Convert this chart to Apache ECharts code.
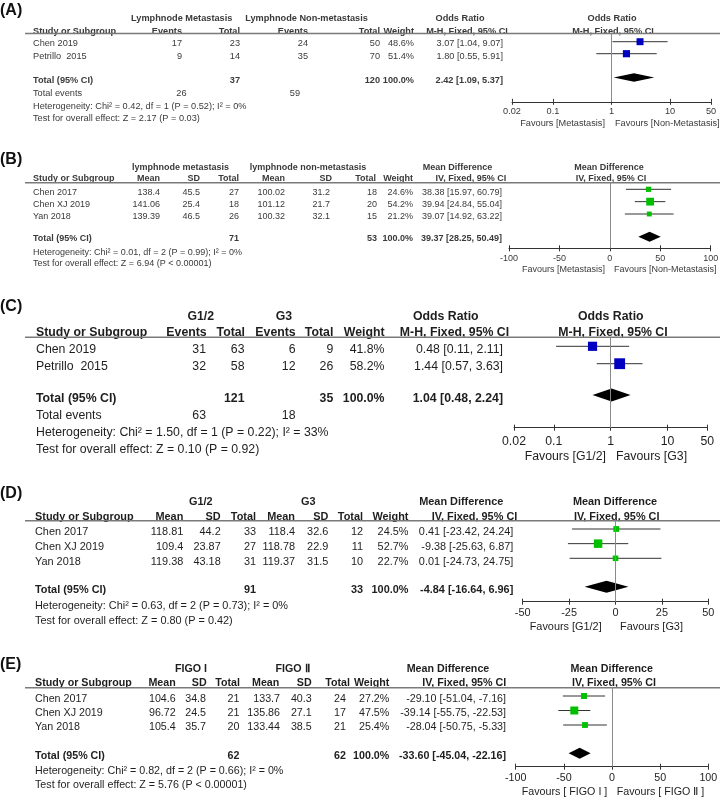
<!DOCTYPE html>
<html><head><meta charset="utf-8">
<script src="https://cdn.jsdelivr.net/npm/echarts@6/dist/echarts.min.js"></script>
<style>html,body{margin:0;padding:0;background:#fff}#c{width:720px;height:798px}</style>
</head><body><div id="c"></div>
<script>
// ================= DATA =================
// (A) Lymphnode metastasis – Odds Ratio
const A_studies = ['Chen 2019', 'Petrillo  2015'];
const A_events1 = [17, 9];
const A_total1 = [23, 14];
const A_events2 = [24, 35];
const A_total2 = [50, 70];
const A_weight = [48.6, 51.4];
const A_est = [3.07, 1.80];
const A_lo = [1.04, 0.55];
const A_hi = [9.07, 5.91];
const A_pooled = [2.42, 1.09, 5.37];
const A_sumTotals = [37, 120];
const A_sumEvents = [26, 59];
const A_groups = ['Lymphnode Metastasis', 'Lymphnode Non-metastasis'];
const A_favours = ['Favours [Metastasis]', 'Favours [Non-Metastasis]'];
const A_ticks = [0.02, 0.1, 1, 10, 50];
const A_het = 'Heterogeneity: Chi² = 0.42, df = 1 (P = 0.52); I² = 0%';
const A_test = 'Test for overall effect: Z = 2.17 (P = 0.03)';

// (B) Lymphnode metastasis – Mean Difference
const B_studies = ['Chen 2017', 'Chen XJ 2019', 'Yan 2018'];
const B_mean1 = [138.4, 141.06, 139.39];
const B_sd1 = [45.5, 25.4, 46.5];
const B_n1 = [27, 18, 26];
const B_mean2 = [100.02, 101.12, 100.32];
const B_sd2 = [31.2, 21.7, 32.1];
const B_n2 = [18, 20, 15];
const B_weight = [24.6, 54.2, 21.2];
const B_est = [38.38, 39.94, 39.07];
const B_lo = [15.97, 24.84, 14.92];
const B_hi = [60.79, 55.04, 63.22];
const B_pooled = [39.37, 28.25, 50.49];
const B_sumTotals = [71, 53];
const B_groups = ['lymphnode metastasis', 'lymphnode non-metastasis'];
const B_favours = ['Favours [Metastasis]', 'Favours [Non-Metastasis]'];
const B_ticks = [-100, -50, 0, 50, 100];
const B_het = 'Heterogeneity: Chi² = 0.01, df = 2 (P = 0.99); I² = 0%';
const B_test = 'Test for overall effect: Z = 6.94 (P < 0.00001)';

// (C) Grade – Odds Ratio
const C_studies = ['Chen 2019', 'Petrillo  2015'];
const C_events1 = [31, 32];
const C_total1 = [63, 58];
const C_events2 = [6, 12];
const C_total2 = [9, 26];
const C_weight = [41.8, 58.2];
const C_est = [0.48, 1.44];
const C_lo = [0.11, 0.57];
const C_hi = [2.11, 3.63];
const C_pooled = [1.04, 0.48, 2.24];
const C_sumTotals = [121, 35];
const C_sumEvents = [63, 18];
const C_groups = ['G1/2', 'G3'];
const C_favours = ['Favours [G1/2]', 'Favours [G3]'];
const C_ticks = [0.02, 0.1, 1, 10, 50];
const C_het = 'Heterogeneity: Chi² = 1.50, df = 1 (P = 0.22); I² = 33%';
const C_test = 'Test for overall effect: Z = 0.10 (P = 0.92)';

// (D) Grade – Mean Difference
const D_studies = ['Chen 2017', 'Chen XJ 2019', 'Yan 2018'];
const D_mean1 = [118.81, 109.4, 119.38];
const D_sd1 = [44.2, 23.87, 43.18];
const D_n1 = [33, 27, 31];
const D_mean2 = [118.4, 118.78, 119.37];
const D_sd2 = [32.6, 22.9, 31.5];
const D_n2 = [12, 11, 10];
const D_weight = [24.5, 52.7, 22.7];
const D_est = [0.41, -9.38, 0.01];
const D_lo = [-23.42, -25.63, -24.73];
const D_hi = [24.24, 6.87, 24.75];
const D_pooled = [-4.84, -16.64, 6.96];
const D_sumTotals = [91, 33];
const D_groups = ['G1/2', 'G3'];
const D_favours = ['Favours [G1/2]', 'Favours [G3]'];
const D_ticks = [-50, -25, 0, 25, 50];
const D_het = 'Heterogeneity: Chi² = 0.63, df = 2 (P = 0.73); I² = 0%';
const D_test = 'Test for overall effect: Z = 0.80 (P = 0.42)';

// (E) FIGO stage – Mean Difference
const E_studies = ['Chen 2017', 'Chen XJ 2019', 'Yan 2018'];
const E_mean1 = [104.6, 96.72, 105.4];
const E_sd1 = [34.8, 24.5, 35.7];
const E_n1 = [21, 21, 20];
const E_mean2 = [133.7, 135.86, 133.44];
const E_sd2 = [40.3, 27.1, 38.5];
const E_n2 = [24, 17, 21];
const E_weight = [27.2, 47.5, 25.4];
const E_est = [-29.10, -39.14, -28.04];
const E_lo = [-51.04, -55.75, -50.75];
const E_hi = [-7.16, -22.53, -5.33];
const E_pooled = [-33.60, -45.04, -22.16];
const E_sumTotals = [62, 62];
const E_groups = ['FIGO I', 'FIGO Ⅱ'];
const E_favours = ['Favours [ FIGO I ]', 'Favours [ FIGO Ⅱ ]'];
const E_ticks = [-100, -50, 0, 50, 100];
const E_het = 'Heterogeneity: Chi² = 0.82, df = 2 (P = 0.66); I² = 0%';
const E_test = 'Test for overall effect: Z = 5.76 (P < 0.00001)';

const OR_HEAD = ['Odds Ratio', 'M-H, Fixed, 95% CI'];
const MD_HEAD = ['Mean Difference', 'IV, Fixed, 95% CI'];
const DICH_COLS = ['Events', 'Total', 'Events', 'Total'];
const CONT_COLS = ['Mean', 'SD', 'Total', 'Mean', 'SD', 'Total'];

// ================= LAYOUT / STYLE =================
const BLUE = '#0000c0', GREEN = '#00c000';
const FONT_FAMILY = '"Liberation Sans", Arial, Helvetica, sans-serif';

const panels = [
  { label: '(A)', kind: 'dich', log: true, head: OR_HEAD, color: BLUE,
    studies: A_studies, cols: [A_events1, A_total1, A_events2, A_total2], weight: A_weight,
    est: A_est, lo: A_lo, hi: A_hi, pooled: A_pooled, sumTotals: A_sumTotals, sumEvents: A_sumEvents,
    groups: A_groups, favours: A_favours, ticks: A_ticks, het: A_het, test: A_test,
    L: { fs: 9.2, tc: '#3a3a3a', labelY: 10.3, row1Y: 18.3, row2Y: 31, ruleY: 33.5, studyX: 33,
      colX: [182, 240, 308, 380], colHX: [182, 240, 308, 380], weightX: 414, estX: 503,
      groupX: [181.7, 306.5], effHeadX: 460, ciHeadX: 467, plotHeadX: 612, plotCiX: 613,
      textY0: 43.8, textStep: 13, totalTextY: 80, eventsY: 93.3, hetY: 106, testY: 118.3,
      sumTotCol: [1, 3], sumEventsX: [186.5, 300],
      gx0: 512, gx1: 711, axisY: 101.8, markY0: 41.7, markStep: 12, markTotalY: 77.5,
      sizeK: 1.0, dHalf: 4.2, tickLabelY: 111.7, favY: 123, favX: [605, 615] } },
  { label: '(B)', kind: 'cont', log: false, head: MD_HEAD, color: GREEN,
    studies: B_studies, cols: [B_mean1, B_sd1, B_n1, B_mean2, B_sd2, B_n2], weight: B_weight,
    est: B_est, lo: B_lo, hi: B_hi, pooled: B_pooled, sumTotals: B_sumTotals, sumEvents: null,
    groups: B_groups, favours: B_favours, ticks: B_ticks, het: B_het, test: B_test,
    L: { fs: 9, tc: '#3a3a3a', labelY: 160, row1Y: 167.3, row2Y: 179, ruleY: 182.7, studyX: 33,
      colX: [160, 200, 239, 285, 330, 377], colHX: [160, 200, 239, 285, 332, 376], weightX: 413, estX: 502,
      groupX: [180.5, 308], effHeadX: 457.5, ciHeadX: 470.8, plotHeadX: 609, plotCiX: 611,
      textY0: 192.3, textStep: 11.9, totalTextY: 239, eventsY: null, hetY: 252.3, testY: 264,
      sumTotCol: [2, 5],
      gx0: 509, gx1: 710.7, axisY: 248.3, markY0: 189.3, markStep: 12.35, markTotalY: 236.7,
      sizeK: 1.06, dHalf: 5, tickLabelY: 258.3, favY: 269.3, favX: [605, 614] } },
  { label: '(C)', kind: 'dich', log: true, head: OR_HEAD, color: BLUE,
    studies: C_studies, cols: [C_events1, C_total1, C_events2, C_total2], weight: C_weight,
    est: C_est, lo: C_lo, hi: C_hi, pooled: C_pooled, sumTotals: C_sumTotals, sumEvents: C_sumEvents,
    groups: C_groups, favours: C_favours, ticks: C_ticks, het: C_het, test: C_test,
    L: { fs: 12.3, tc: '#1e1e1e', labelY: 307, row1Y: 316.7, row2Y: 332.7, ruleY: 337.3, studyX: 36,
      colX: [206, 244.5, 295.5, 333.3], colHX: [206.7, 245, 295.7, 333.3], weightX: 384.5, estX: 503,
      groupX: [200.8, 284], effHeadX: 445.8, ciHeadX: 454.5, plotHeadX: 610.8, plotCiX: 613,
      textY0: 350, textStep: 16.7, totalTextY: 398.3, eventsY: 415.7, hetY: 432.3, testY: 450,
      sumTotCol: [1, 3], sumEventsX: [206, 295.5],
      gx0: 514, gx1: 707.3, axisY: 427.7, markY0: 346.3, markStep: 17.4, markTotalY: 395,
      sizeK: 1.42, dHalf: 6.5, tickLabelY: 441.7, favY: 456.7, favX: [606, 616] } },
  { label: '(D)', kind: 'cont', log: false, head: MD_HEAD, color: GREEN,
    studies: D_studies, cols: [D_mean1, D_sd1, D_n1, D_mean2, D_sd2, D_n2], weight: D_weight,
    est: D_est, lo: D_lo, hi: D_hi, pooled: D_pooled, sumTotals: D_sumTotals, sumEvents: null,
    groups: D_groups, favours: D_favours, ticks: D_ticks, het: D_het, test: D_test,
    L: { fs: 10.9, tc: '#1e1e1e', labelY: 494, row1Y: 501.7, row2Y: 516.7, ruleY: 520.7, studyX: 35,
      colX: [183.3, 220.7, 256, 295, 328.3, 363], colHX: [183.3, 220.7, 256, 295, 328.3, 363], weightX: 408.5, estX: 513.3,
      groupX: [200.8, 308.3], effHeadX: 461.3, ciHeadX: 474.5, plotHeadX: 615, plotCiX: 616.7,
      textY0: 532.3, textStep: 15, totalTextY: 590, eventsY: null, hetY: 605.7, testY: 620.7,
      sumTotCol: [2, 5],
      gx0: 522.7, gx1: 708.3, axisY: 601.7, markY0: 529, markStep: 14.65, markTotalY: 586.7,
      sizeK: 1.17, dHalf: 6, tickLabelY: 613.3, favY: 626.7, favX: [601.7, 620] } },
  { label: '(E)', kind: 'cont', log: false, head: MD_HEAD, color: GREEN,
    studies: E_studies, cols: [E_mean1, E_sd1, E_n1, E_mean2, E_sd2, E_n2], weight: E_weight,
    est: E_est, lo: E_lo, hi: E_hi, pooled: E_pooled, sumTotals: E_sumTotals, sumEvents: null,
    groups: E_groups, favours: E_favours, ticks: E_ticks, het: E_het, test: E_test,
    L: { fs: 10.7, tc: '#1e1e1e', labelY: 665, row1Y: 669.3, row2Y: 683.3, ruleY: 687.7, studyX: 35,
      colX: [175.7, 206, 239.5, 280, 311.7, 346], colHX: [175.7, 206.7, 240, 279.3, 311.7, 350], weightX: 389.3, estX: 506,
      groupX: [191, 292.5], effHeadX: 448, ciHeadX: 464.2, plotHeadX: 611.7, plotCiX: 614,
      textY0: 699.3, textStep: 14, totalTextY: 756, eventsY: null, hetY: 770.7, testY: 785,
      sumTotCol: [2, 5],
      gx0: 515.7, gx1: 708.3, axisY: 766.7, markY0: 696, markStep: 14.5, markTotalY: 753.3,
      sizeK: 1.16, dHalf: 5.5, tickLabelY: 778.3, favY: 791.7, favX: [607.3, 616.7] } }
];

// ================= BUILD =================
const graphics = [], grids = [], xAxes = [], yAxes = [], series = [];
function font(fs, bold) { return (bold ? 'bold ' : '') + fs + 'px ' + FONT_FAMILY; }
function txt(x, y, s, fs, bold, color, align) {
  graphics.push({ type: 'text', x: x, y: y, silent: true,
    style: { text: String(s), font: font(fs, bold), fill: color, align: align || 'left', verticalAlign: 'middle' } });
}
function ci(e, l, h) { return e.toFixed(2) + ' [' + l.toFixed(2) + ', ' + h.toFixed(2) + ']'; }

panels.forEach(function (p, k) {
  const L = p.L, fs = L.fs, c = L.tc;
  // panel label
  txt(0, L.labelY, p.label, 16, true, '#111', 'left');
  // header row 1
  txt(L.groupX[0], L.row1Y, p.groups[0], fs, true, c, 'center');
  txt(L.groupX[1], L.row1Y, p.groups[1], fs, true, c, 'center');
  txt(L.effHeadX, L.row1Y, p.head[0], fs, true, c, 'center');
  txt(L.plotHeadX, L.row1Y, p.head[0], fs, true, c, 'center');
  // header row 2
  txt(L.studyX, L.row2Y, 'Study or Subgroup', fs, true, c, 'left');
  const colNames = p.kind === 'dich' ? DICH_COLS : CONT_COLS;
  colNames.forEach(function (n, j) { txt(L.colHX[j], L.row2Y, n, fs, true, c, 'right'); });
  txt(L.weightX, L.row2Y, 'Weight', fs, true, c, 'right');
  txt(L.ciHeadX, L.row2Y, p.head[1], fs, true, c, 'center');
  txt(L.plotCiX, L.row2Y, p.head[1], fs, true, c, 'center');
  // rule
  graphics.push({ type: 'line', silent: true, shape: { x1: 25, y1: L.ruleY, x2: 720, y2: L.ruleY },
    style: { stroke: '#7a7a7a', lineWidth: 1.4 } });
  // study rows
  p.studies.forEach(function (s, i) {
    const y = L.textY0 + i * L.textStep;
    txt(L.studyX, y, s, fs, false, c, 'left');
    p.cols.forEach(function (col, j) { txt(L.colX[j], y, col[i], fs, false, c, 'right'); });
    txt(L.weightX, y, p.weight[i].toFixed(1) + '%', fs, false, c, 'right');
    txt(L.estX, y, ci(p.est[i], p.lo[i], p.hi[i]), fs, false, c, 'right');
  });
  // total row
  txt(L.studyX, L.totalTextY, 'Total (95% CI)', fs, true, c, 'left');
  txt(L.colX[L.sumTotCol[0]], L.totalTextY, p.sumTotals[0], fs, true, c, 'right');
  txt(L.colX[L.sumTotCol[1]], L.totalTextY, p.sumTotals[1], fs, true, c, 'right');
  txt(L.weightX, L.totalTextY, '100.0%', fs, true, c, 'right');
  txt(L.estX, L.totalTextY, ci(p.pooled[0], p.pooled[1], p.pooled[2]), fs, true, c, 'right');
  if (p.sumEvents) {
    txt(L.studyX, L.eventsY, 'Total events', fs, false, c, 'left');
    txt(L.sumEventsX[0], L.eventsY, p.sumEvents[0], fs, false, c, 'right');
    txt(L.sumEventsX[1], L.eventsY, p.sumEvents[1], fs, false, c, 'right');
  }
  txt(L.studyX, L.hetY, p.het, fs, false, c, 'left');
  txt(L.studyX, L.testY, p.test, fs, false, c, 'left');
  // favours
  txt(L.favX[0], L.favY, p.favours[0], fs, false, c, 'right');
  txt(L.favX[1], L.favY, p.favours[1], fs, false, c, 'left');

  // ---- plot grid ----
  const H = L.axisY - L.ruleY;
  grids.push({ left: L.gx0, width: L.gx1 - L.gx0, top: L.ruleY, height: H, outerBoundsMode: 'none', containLabel: false });
  const yMin = -(L.markY0 - L.ruleY) / L.markStep;
  const yMax = yMin + H / L.markStep;
  yAxes.push({ gridIndex: k, type: 'value', inverse: true, min: yMin, max: yMax, show: false });
  const tmin = p.ticks[0], tmax = p.ticks[p.ticks.length - 1];
  const base = p.log
    ? { type: 'log', logBase: 10, min: tmin, max: tmax }
    : { type: 'value', min: tmin, max: tmax, interval: p.ticks[1] - p.ticks[0] };
  const margin = L.tickLabelY - L.axisY - fs / 2;
  xAxes.push(Object.assign({ gridIndex: k, position: 'bottom', offset: 0,
    axisLine: { show: true, onZero: false, lineStyle: { color: '#333', width: 1 } },
    axisTick: { show: true, inside: false, length: 3, lineStyle: { color: '#333', width: 1 } },
    splitLine: { show: false }, minorTick: { show: false },
    axisLabel: { show: true, showMinLabel: true, showMaxLabel: true, margin: margin, color: c,
      fontSize: fs, fontFamily: FONT_FAMILY,
      formatter: function (v) { return String(parseFloat(Number(v).toPrecision(6))); } }
  }, base));
  const xi = xAxes.length - 1;
  xAxes.push(Object.assign({ gridIndex: k, position: 'bottom', offset: 0,
    axisLine: { show: false, onZero: false },
    axisTick: { show: true, inside: true, length: 3, lineStyle: { color: '#333', width: 1 } },
    splitLine: { show: false }, axisLabel: { show: false }
  }, base));

  const totalIdx = (L.markTotalY - L.markY0) / L.markStep;
  const studyData = p.studies.map(function (s, i) {
    return [p.est[i], p.lo[i], p.hi[i], i, L.sizeK * Math.sqrt(p.weight[i])];
  });
  series.push({
    type: 'custom', xAxisIndex: xi, yAxisIndex: k, silent: true, clip: false,
    encode: { x: [0, 1, 2], y: 3 },
    data: studyData,
    renderItem: function (params, api) {
      const y = api.value(3);
      const pt = api.coord([api.value(0), y]);
      const a = api.coord([api.value(1), y]);
      const b = api.coord([api.value(2), y]);
      const s = api.value(4);
      return { type: 'group', children: [
        { type: 'line', shape: { x1: a[0], y1: a[1], x2: b[0], y2: b[1] }, style: { stroke: '#333', lineWidth: 1 } },
        { type: 'rect', shape: { x: pt[0] - s / 2, y: pt[1] - s / 2, width: s, height: s }, style: { fill: p.color } }
      ] };
    },
    markLine: { silent: true, symbol: 'none', label: { show: false },
      lineStyle: { color: '#8a8a8a', width: 1, type: 'solid' },
      data: [{ xAxis: p.log ? 1 : 0 }] },
    z: 3
  });
  series.push({
    type: 'custom', xAxisIndex: xi, yAxisIndex: k, silent: true, clip: false,
    encode: { x: [0, 1, 2], y: 3 },
    data: [[p.pooled[0], p.pooled[1], p.pooled[2], totalIdx]],
    renderItem: function (params, api) {
      const y = api.value(3);
      const pt = api.coord([api.value(0), y]);
      const a = api.coord([api.value(1), y]);
      const b = api.coord([api.value(2), y]);
      const h = L.dHalf;
      return { type: 'polygon', shape: { points: [[a[0], a[1]], [pt[0], pt[1] - h], [b[0], b[1]], [pt[0], pt[1] + h]] },
        style: { fill: '#000' } };
    },
    z: 4
  });
});

const chart = echarts.init(document.getElementById('c'), null, { renderer: 'canvas' });
chart.setOption({
  animation: false,
  backgroundColor: '#fff',
  grid: grids, xAxis: xAxes, yAxis: yAxes, series: series,
  graphic: { elements: graphics }
});
</script>
</body></html>
